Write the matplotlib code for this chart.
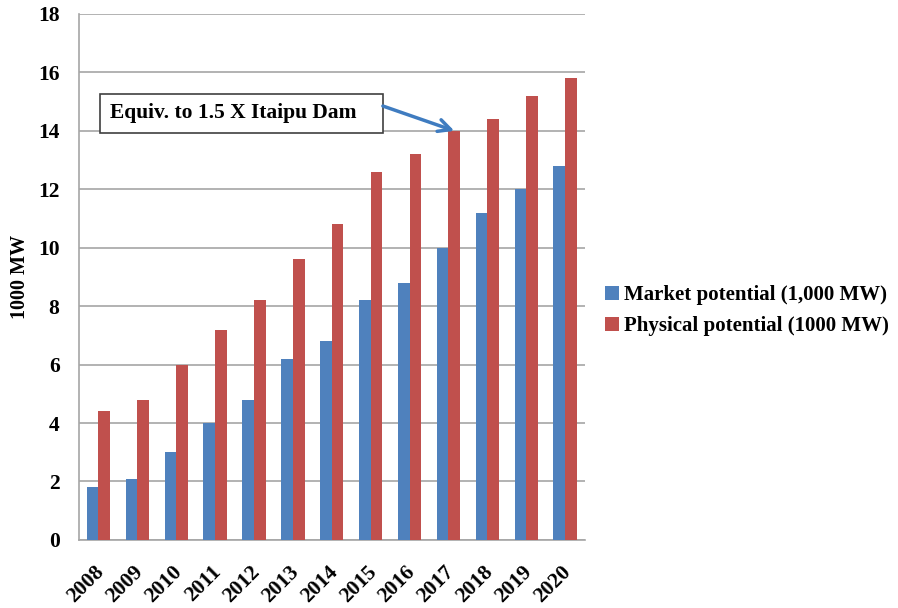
import matplotlib
matplotlib.use("Agg")
import matplotlib.pyplot as plt
import numpy as np
from matplotlib.patches import Rectangle

years = ["2008", "2009", "2010", "2011", "2012", "2013", "2014",
         "2015", "2016", "2017", "2018", "2019", "2020"]
market = [1.8, 2.1, 3.0, 4.0, 4.8, 6.2, 6.8, 8.2, 8.8, 10.0, 11.2, 12.0, 12.8]
physical = [4.4, 4.8, 6.0, 7.2, 8.2, 9.6, 10.8, 12.6, 13.2, 14.0, 14.4, 15.2, 15.8]
yticks = [0, 2, 4, 6, 8, 10, 12, 14, 16, 18]

blue = "#4F81BD"
red = "#C0504D"
grid = "#A6A6A6"

plt.rcParams["font.family"] = ["Liberation Serif", "DejaVu Serif"]
plt.rcParams["font.weight"] = "bold"

fig = plt.figure(figsize=(8.98, 6.08), dpi=100)
ax = fig.add_axes([0.088, 0.112, 0.563, 0.865])

x = np.arange(len(years))
w = 0.3
b1 = ax.bar(x - w / 2, market, w, color=blue, label="Market potential (1,000 MW)", zorder=3)
b2 = ax.bar(x + w / 2, physical, w, color=red, label="Physical potential (1000 MW)", zorder=3)

ax.set_xlim(-0.5, len(years) - 0.5)
ax.set_ylim(0, 18)
ax.set_yticks(yticks)
ax.set_yticklabels([str(t) for t in yticks], fontsize=15.5, fontweight="bold")
ax.yaxis.grid(True, color=grid, lw=1.2, zorder=0)
ax.set_axisbelow(True)
ax.tick_params(axis="y", length=0, pad=14)
ax.tick_params(axis="x", length=0, pad=16)
ax.set_xticks(x - 0.11)
ax.set_xticklabels(years, rotation=45, ha="right", rotation_mode="anchor",
                   fontsize=15.5, fontweight="bold")
for s in ["top", "right"]:
    ax.spines[s].set_visible(False)
for s in ["left", "bottom"]:
    ax.spines[s].set_color(grid)
    ax.spines[s].set_linewidth(1.2)

ax.set_ylabel("1000 MW", fontsize=14.5, fontweight="bold", labelpad=6)

# callout box with arrow to the 2017 physical bar
ax.add_patch(Rectangle((0.0415, 0.774), 0.5595, 0.074, transform=ax.transAxes,
                       facecolor="white", edgecolor="#404040", lw=1.2, zorder=5,
                       clip_on=False))
ax.text(0.061, 0.812, "Equiv. to 1.5 X Itaipu Dam", transform=ax.transAxes,
        fontsize=15.5, fontweight="bold", va="center", ha="left", zorder=6)
idx = years.index("2017")
ax.annotate("", xy=(idx + w / 2, physical[idx]), xycoords="data",
            xytext=(0.601, 0.825), textcoords="axes fraction",
            arrowprops=dict(arrowstyle="->", color="#3F7CC0", lw=2.5,
                            mutation_scale=22, shrinkA=0, shrinkB=0),
            zorder=6)

fig.legend(handles=[b1, b2], loc="center left", bbox_to_anchor=(0.658, 0.489),
           frameon=False, handlelength=0.65, handleheight=0.65,
           handletextpad=0.25, labelspacing=0.55, borderpad=0.2,
           prop={"weight": "bold", "size": 15})

fig.savefig("out.png", dpi=100)
